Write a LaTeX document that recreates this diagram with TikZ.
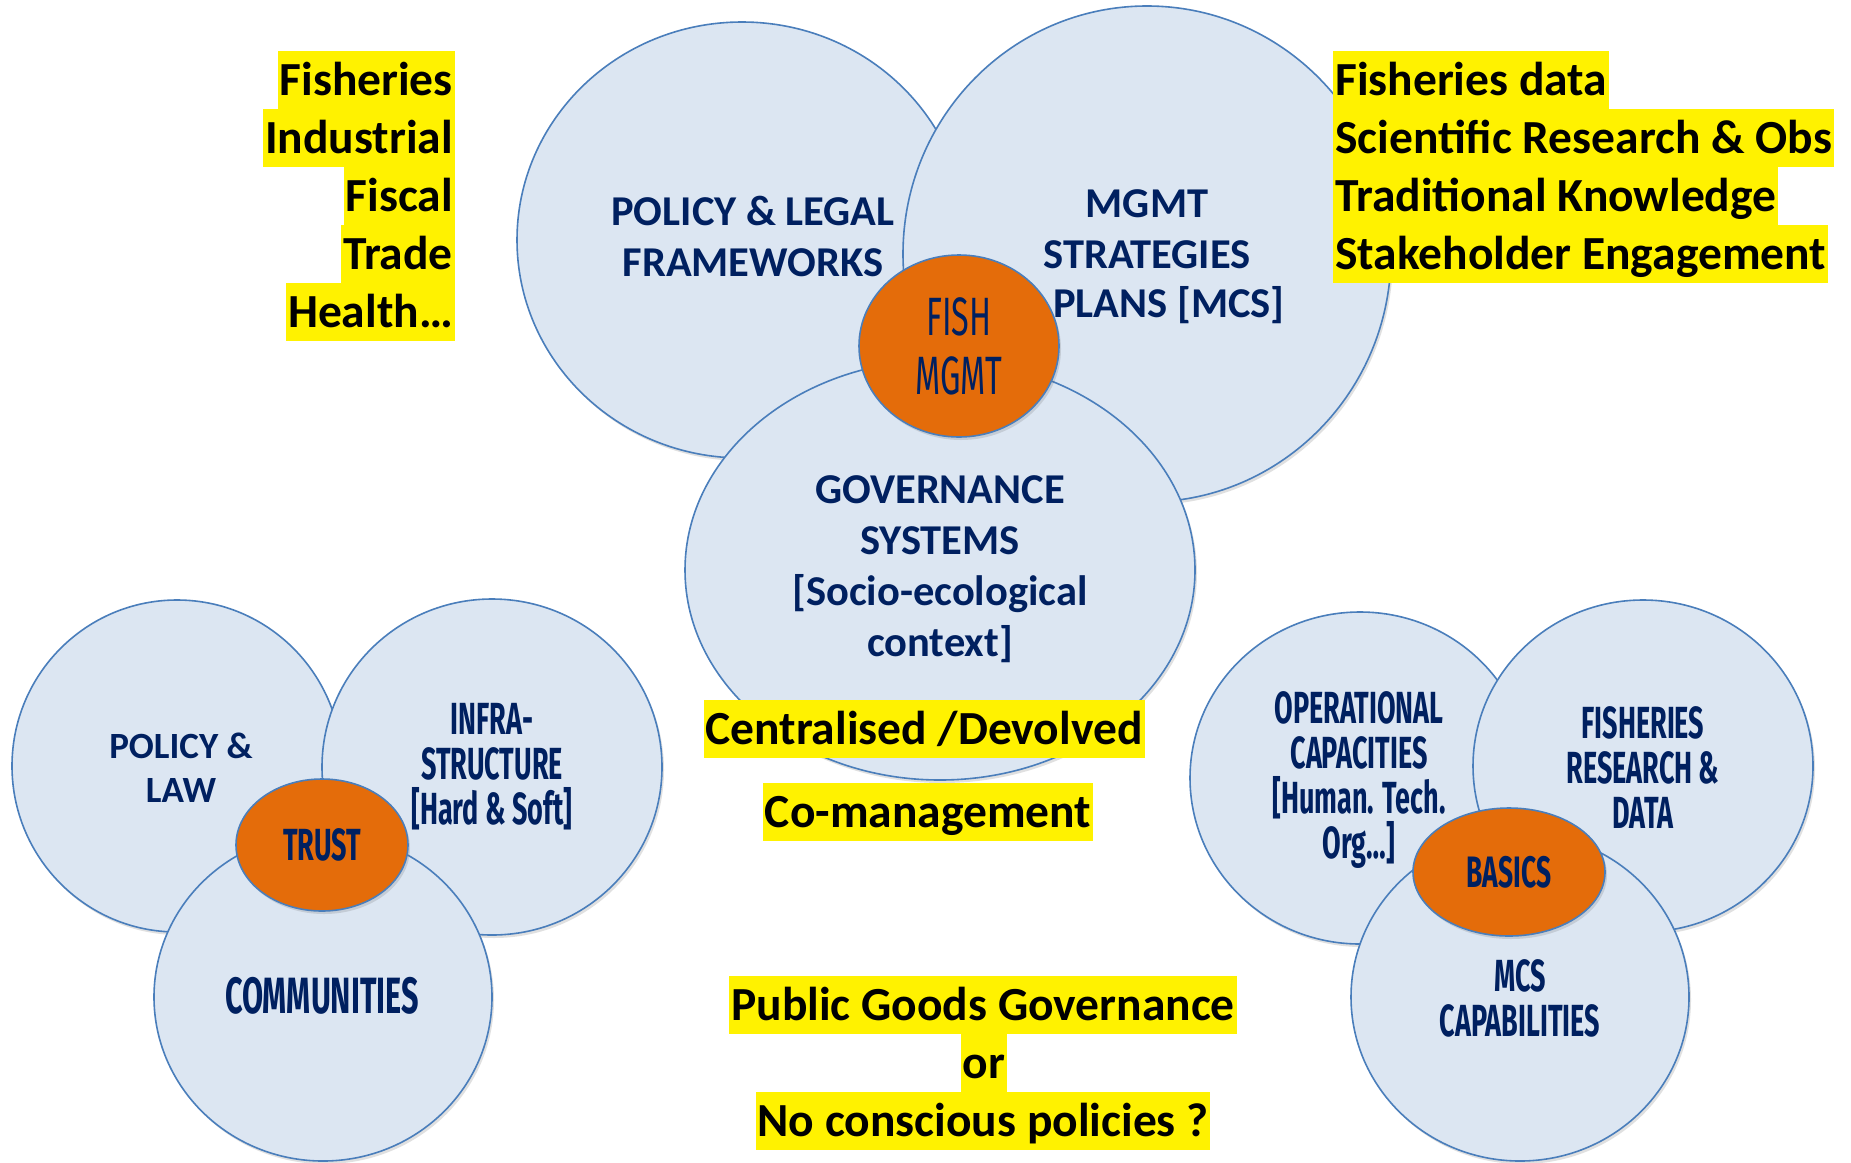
\documentclass[tikz,border=0pt]{standalone}
\usepackage{fontspec}
\setmainfont{Carlito}
\newfontfamily\agb[FakeStretch=0.6]{Fira Sans}
\usetikzlibrary{shapes.geometric,shadows}
\definecolor{ellfill}{HTML}{DCE6F2}
\definecolor{elldraw}{HTML}{4A7EBB}
\definecolor{orng}{HTML}{E46C0A}
\definecolor{navy}{HTML}{002060}
\begin{document}
\begin{tikzpicture}[x=1pt,y=-1pt,
  bub/.style={ellipse, draw=elldraw, line width=1.6pt, fill=ellfill, inner sep=0pt,
    drop shadow={shadow xshift=2pt, shadow yshift=-3pt, opacity=0.2, fill=black!60}},
  core/.style={ellipse, draw=elldraw, line width=1.6pt, fill=orng, inner sep=0pt, text=navy, align=center,
    drop shadow={shadow xshift=2pt, shadow yshift=-3pt, opacity=0.2, fill=black!60}},
  lbl/.style={text=navy, font=\bfseries\fontsize{42.5}{51}\selectfont, align=center, inner sep=0pt},
  cnd/.style={text=navy, font=\agb\bfseries\fontsize{45}{45}\selectfont, align=center, inner sep=0pt},
  hl/.style={fill=yellow, text=black, font=\bfseries\fontsize{47.5}{58}\selectfont, inner xsep=2pt, inner ysep=0pt, text height=44pt, text depth=14pt}]
\useasboundingbox (0,0) rectangle (1851,1162);
\fill[white] (0,0) rectangle (1851,1162);

% top group
\node[bub, minimum width=450pt, minimum height=436pt] (plf) at (742,240) {};
\node[bub, minimum width=488pt, minimum height=496pt] (mgs) at (1147,254) {};
\node[bub, minimum width=510pt, minimum height=420pt] (gov) at (940,570) {};
\node[lbl] (tplf) at (753,236) {POLICY \& LEGAL\\FRAMEWORKS};
\node[lbl] (tmgs) at (1147,229) {MGMT\\STRATEGIES};
\node[lbl] (tmgs2) at (1169,305) {PLANS [MCS]};
\node[lbl] (tgov) at (940,569) {GOVERNANCE\\SYSTEMS\\{[}Socio-ecological\\context{]}};
\node[core, minimum width=200pt, minimum height=182pt, font=\agb\fontsize{54}{59}\selectfont] (fish) at (959,346) {FISH\\MGMT};

% highlighted texts
\node[hl] (cd) at (924,729) {Centralised /Devolved};
\node[hl] (cm) at (928,812) {Co-management};
\node[hl] (pg) at (983,1005) {Public Goods Governance};
\node[hl] (or) at (984,1063) {or};
\node[hl] (nc) at (983,1121) {No conscious policies ?};

\node[hl, anchor=east] (l1) at (455,80) {Fisheries};
\node[hl, anchor=east] (l2) at (455,138) {Industrial};
\node[hl, anchor=east] (l3) at (455,196) {Fiscal};
\node[hl, anchor=east] (l4) at (455,254) {Trade};
\node[hl, anchor=east] (l5) at (455,312) {Health…};

\node[hl, anchor=west] (r1) at (1333,80) {Fisheries data};
\node[hl, anchor=west] (r2) at (1333,138) {Scientific Research \& Obs};
\node[hl, anchor=west] (r3) at (1333,196) {Traditional Knowledge};
\node[hl, anchor=west] (r4) at (1333,254) {Stakeholder Engagement};

% bottom-left group
\node[bub, minimum width=330pt, minimum height=332pt] (pll) at (177,766) {};
\node[bub, minimum width=340pt, minimum height=336pt] (inf) at (492,767) {};
\node[bub, minimum width=338pt, minimum height=328pt] (com) at (323,997) {};
\node[core, minimum width=172pt, minimum height=132pt, font=\agb\bfseries\fontsize{45}{45}\selectfont] (trust) at (322,845) {TRUST};
\node[lbl, font=\bfseries\fontsize{37}{44}\selectfont] (tpll) at (181,768) {POLICY \&\\LAW};
\node[cnd] (tinf) at (492,767) {INFRA-\\STRUCTURE\\{[}Hard \& Soft{]}};
\node[cnd, font=\agb\bfseries\fontsize{51}{51}\selectfont] (tcom) at (322,996) {COMMUNITIES};

% bottom-right group
\node[bub, minimum width=340pt, minimum height=332pt] (opc) at (1360,778) {};
\node[bub, minimum width=340pt, minimum height=332pt] (frd) at (1643,766) {};
\node[bub, minimum width=338pt, minimum height=328pt] (mcs) at (1520,997) {};
\node[cnd] (topc) at (1359,780) {OPERATIONAL\\CAPACITIES\\{[}Human. Tech.\\Org…{]}};
\node[cnd] (tfrd) at (1643,768) {FISHERIES\\RESEARCH \&\\DATA};
\node[cnd] (tmcs) at (1520,998) {MCS\\CAPABILITIES};
\node[core, minimum width=192pt, minimum height=128pt, font=\agb\bfseries\fontsize{44}{44}\selectfont] (basics) at (1509,872) {BASICS};
\end{tikzpicture}
\end{document}
